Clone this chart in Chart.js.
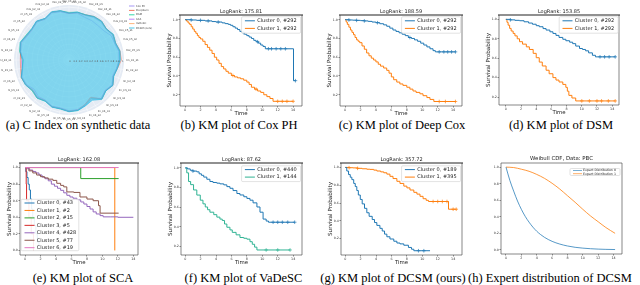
<!DOCTYPE html>
<html><head><meta charset="utf-8">
<script src="https://cdn.jsdelivr.net/npm/chart.js@4.4.1/dist/chart.umd.min.js"></script>
<style>
html,body{margin:0;padding:0;background:#fff;width:640px;height:285px;overflow:hidden;position:relative}
canvas{position:absolute}
.cap{position:absolute;font-family:"Liberation Serif","Times New Roman",serif;font-size:12.5px;line-height:1;white-space:nowrap;color:#000}
</style></head><body>
<div class="cap" style="left:78px;top:118.8px;transform:translateX(-50%)">(a) C Index on synthetic data</div>
<div class="cap" style="left:239px;top:118.8px;transform:translateX(-50%)">(b) KM plot of Cox PH</div>
<div class="cap" style="left:402px;top:118.8px;transform:translateX(-50%)">(c) KM plot of Deep Cox</div>
<div class="cap" style="left:561px;top:118.8px;transform:translateX(-50%)">(d) KM plot of DSM</div>
<div class="cap" style="left:83px;top:272px;transform:translateX(-50%)">(e) KM plot of SCA</div>
<div class="cap" style="left:243.5px;top:272px;transform:translateX(-50%)">(f) KM plot of VaDeSC</div>
<div class="cap" style="left:393px;top:272px;transform:translateX(-50%)">(g) KM plot of DCSM (ours)</div>
<div class="cap" style="left:468px;top:272px">(h) Expert distribution of DCSM</div>
<script>
// ---------------- DATA ----------------
// (a) radar: C index per synthetic dataset
const radarLabels = ['lin_k2_s1','lin_k2_s2','lin_k2_s3','lin_k3_s1','lin_k3_s2','lin_k3_s3','lin_k4_s1','lin_k4_s2','lin_k4_s3','lin_k5_s1','lin_k5_s2','lin_k5_s3',
  'nl_k2_s1','nl_k2_s2','nl_k2_s3','nl_k3_s1','nl_k3_s2','nl_k3_s3','nl_k4_s1','nl_k4_s2','nl_k4_s3','nl_k5_s1','nl_k5_s2','nl_k5_s3',
  'mix_k2_s1','mix_k2_s2','mix_k2_s3','mix_k3_s1','mix_k3_s2','mix_k3_s3','mix_k4_s1','mix_k4_s2','mix_k4_s3','mix_k5_s1','mix_k5_s2','mix_k5_s3'];
const radarMethods = ['Cox PH','DeepSurv','DSM','SCA','VaDeSC','DCSM (ours)'];
const radarCoxPH   = [0.95,0.92,0.89,0.95,0.90,0.95,0.86,0.91,0.96,0.97,0.93,0.94,0.88,0.90,0.86,0.93,0.95,0.89,0.86,0.93,0.97,0.92,0.91,0.95,0.90,0.96,0.93,0.88,0.90,0.86,0.86,0.85,0.86,0.92,0.92,0.96];
const radarDeepSurv= [0.99,0.93,0.89,0.96,0.90,0.96,0.82,0.89,0.96,0.97,0.93,0.94,0.89,0.93,0.89,0.94,0.96,0.93,0.92,0.93,0.97,0.92,0.91,0.95,0.90,0.96,0.94,0.88,0.91,0.91,0.95,0.96,0.92,0.96,0.94,0.98];
const radarDSM     = [0.96,0.92,0.90,0.95,0.91,0.96,0.84,0.91,0.97,0.97,0.94,0.94,0.90,0.94,0.91,0.94,0.96,0.89,0.88,0.95,0.98,0.94,0.92,0.95,0.90,0.96,0.94,0.90,0.92,0.91,0.94,0.95,0.92,0.96,0.93,0.97];
const radarSCA     = [0.95,0.91,0.88,0.94,0.89,0.95,0.83,0.90,0.95,0.96,0.92,0.93,0.89,0.92,0.89,0.93,0.95,0.90,0.90,0.93,0.96,0.91,0.90,0.94,0.89,0.95,0.93,0.88,0.91,0.90,0.93,0.94,0.91,0.95,0.92,0.96];
const radarVaDeSC  = [0.96,0.92,0.89,0.95,0.90,0.96,0.81,0.90,0.96,0.97,0.93,0.94,0.89,0.93,0.90,0.94,0.96,0.91,0.89,0.94,0.97,0.93,0.91,0.95,0.90,0.96,0.94,0.89,0.91,0.90,0.94,0.95,0.91,0.96,0.93,0.97];
const radarDCSM    = [0.97,0.93,0.90,0.96,0.91,0.97,0.88,0.92,0.97,0.98,0.94,0.95,0.90,0.94,0.90,0.95,0.96,0.90,0.87,0.94,0.98,0.93,0.92,0.96,0.91,0.97,0.95,0.89,0.92,0.91,0.95,0.96,0.92,0.97,0.94,0.98];
const radarTicks = [0,0.1,0.2,0.3,0.4,0.5,0.6,0.7,0.8,0.9,1];

// shared tick labels
const timeTicks = [0,2,4,6,8,10,12,14];
const survTicks5 = [1.0,0.8,0.6,0.4,0.2];
const survTicks6 = [1.0,0.8,0.6,0.4,0.2,0.0];

// KM curves: [time, survival, censored?]
const coxC0 = [[0,1],[0.8,0.997,1],[1.5,0.993],[2.0,0.993,1],[2.6,0.987],[3.0,0.987,1],[3.5,0.98],[4.0,0.975],[4.3,0.975,1],[4.8,0.966],[5.2,0.958],[5.6,0.95],[5.9,0.94],[6.2,0.925],[6.5,0.91],[6.8,0.895],[7.1,0.875],[7.4,0.862],[7.6,0.862,1],[7.7,0.845],[8.0,0.83],[8.3,0.815],[8.6,0.8],[8.9,0.78],[9.2,0.765],[9.4,0.765,1],[9.5,0.75],[9.8,0.73],[10.1,0.715],[10.4,0.69],[10.8,0.69,1],[11.2,0.69,1],[11.8,0.69,1],[12.4,0.69,1],[13.0,0.69,1],[14.05,0.35],[14.3,0.35,1]];
const coxC1 = [[0,1],[0.2,0.985],[0.4,0.965],[0.6,0.95],[0.8,0.925],[1.0,0.9],[1.2,0.875],[1.4,0.855],[1.6,0.83],[1.8,0.81],[2.0,0.795],[2.3,0.77],[2.6,0.735],[2.9,0.705],[3.2,0.675],[3.5,0.64],[3.8,0.6],[4.1,0.57],[4.4,0.535],[4.7,0.5],[5.0,0.475],[5.3,0.45],[5.6,0.43],[6.0,0.405],[6.2,0.405,1],[6.4,0.39],[6.8,0.38],[7.2,0.37],[7.6,0.355],[8.0,0.335],[8.3,0.31],[8.6,0.28],[9.0,0.26],[9.2,0.26,1],[9.4,0.24],[9.8,0.225],[10.2,0.2],[10.6,0.18],[11.0,0.16],[11.4,0.13],[12.0,0.13,1],[12.6,0.13,1],[13.2,0.13,1],[14.0,0.13,1]];
const deepC0 = [[0,1],[0.5,0.997,1],[1.0,0.995],[1.5,0.993,1],[2.0,0.99],[2.5,0.987,1],[3.0,0.982],[3.5,0.975],[4.0,0.968],[4.2,0.968,1],[4.5,0.957],[5.0,0.945],[5.4,0.93],[5.8,0.91],[6.2,0.89],[6.6,0.875],[7.0,0.86],[7.4,0.845],[7.8,0.83],[8.2,0.81],[8.4,0.81,1],[8.6,0.8],[9.0,0.785],[9.4,0.77],[9.8,0.75],[10.2,0.73],[10.6,0.71],[11.0,0.69],[11.4,0.67],[11.7,0.657],[12.2,0.657,1],[12.8,0.657,1],[13.3,0.657,1],[13.8,0.657,1],[14.3,0.657,1]];
const deepC1 = [[0,1],[0.15,0.975],[0.3,0.95],[0.5,0.92],[0.7,0.89],[0.9,0.865],[1.1,0.84],[1.3,0.81],[1.5,0.785],[1.7,0.77],[1.9,0.755],[2.2,0.72],[2.5,0.685],[2.8,0.645],[3.1,0.615],[3.4,0.59],[3.7,0.57],[4.0,0.55],[4.3,0.525],[4.6,0.505],[5.0,0.485],[5.4,0.46],[5.7,0.43],[6.0,0.39],[6.3,0.36],[6.7,0.335],[7.1,0.315],[7.5,0.3],[8.0,0.28],[8.4,0.26],[8.8,0.24],[9.2,0.225],[9.7,0.21],[10.1,0.19],[10.6,0.17],[11.0,0.15],[11.5,0.128],[12.2,0.128,1],[13.0,0.128,1],[14.3,0.128,1]];
const dsmC0 = [[0,1],[0.6,0.995,1],[1.2,0.99],[1.8,0.986],[2.4,0.975],[3.0,0.962],[3.5,0.95],[4.0,0.935],[4.4,0.924],[4.9,0.905],[5.3,0.89],[5.8,0.872],[6.2,0.855],[6.6,0.835],[7.0,0.814],[7.5,0.795],[7.9,0.78],[8.4,0.765],[8.8,0.75],[9.2,0.725],[9.7,0.7],[10.1,0.69],[10.5,0.676],[10.9,0.655],[11.4,0.63],[11.8,0.614],[12.4,0.614,1],[13.0,0.614,1],[13.6,0.614,1],[14.4,0.614,1]];
const dsmC1 = [[0,1],[0.15,0.97],[0.3,0.94],[0.5,0.907],[0.7,0.88],[0.96,0.855],[1.2,0.83],[1.5,0.8],[1.8,0.77],[2.2,0.745],[2.7,0.717],[3.1,0.69],[3.6,0.65],[4.0,0.605],[4.4,0.56],[4.8,0.52],[5.3,0.476],[5.7,0.44],[6.2,0.4],[6.6,0.375],[7.0,0.355],[7.5,0.33],[7.9,0.3],[8.1,0.26],[8.3,0.217],[8.7,0.19],[9.2,0.16],[10.0,0.16,1],[11.0,0.16,1],[12.0,0.16,1],[12.6,0.16,1],[13.5,0.16,1],[14.4,0.16,1]];
const scaC0 = [[0,1],[0.1,0.95],[0.25,0.88],[0.4,0.8],[0.55,0.73],[0.7,0.62],[0.85,0.5],[1.0,0.4],[1.2,0.3],[1.4,0.2],[1.6,0.1],[1.8,0.05]];
const scaC1 = [[0,1],[11.6,0.0]];
const scaC2 = [[0,1],[7.2,0.867],[12.1,0.867]];
const scaC3 = [[0,1],[0.15,0.8],[0.2,0.6],[0.5,0.4],[0.8,0.2],[1.1,0.0]];
const scaC4 = [[0,1],[0.3,0.985],[0.6,0.97],[1.0,0.953],[1.4,0.935],[1.8,0.91],[2.2,0.885],[2.6,0.865],[3.0,0.84],[3.4,0.8],[3.8,0.775],[4.2,0.75],[4.6,0.725],[5.0,0.695],[5.4,0.665],[5.8,0.645],[6.2,0.63],[6.7,0.61],[7.2,0.585],[7.6,0.56],[8.0,0.53],[8.4,0.5],[8.8,0.465],[9.2,0.44],[9.7,0.42],[10.1,0.405],[11.0,0.405],[12.0,0.4],[14.0,0.4]];
const scaC5 = [[0,1],[0.5,0.96],[1.0,0.935],[1.5,0.91],[2.0,0.89],[2.5,0.875],[3.0,0.86],[3.6,0.845],[4.1,0.81],[4.6,0.785],[5.0,0.767],[5.4,0.706],[6.3,0.7],[7.1,0.645],[8.0,0.62],[8.8,0.6],[9.5,0.54],[9.7,0.45],[12.1,0.45]];
const scaC6 = [[0,1],[12.1,1]];
const vadeC0 = [[0,1],[0.3,0.99],[0.65,0.976],[1.0,0.968,1],[1.5,0.96],[1.8,0.94],[2.1,0.925],[2.4,0.907],[2.8,0.885],[3.2,0.862],[3.6,0.852],[4.1,0.845],[4.5,0.838],[5.0,0.828],[5.4,0.81],[5.8,0.793],[6.2,0.77],[6.7,0.74],[7.1,0.725],[7.6,0.707],[8.0,0.69],[8.4,0.672],[8.8,0.645],[9.3,0.603],[9.7,0.55],[10.1,0.48],[10.5,0.46],[10.8,0.448],[11.4,0.448,1],[12.0,0.448,1],[12.6,0.448,1],[13.3,0.448,1],[14.2,0.448,1]];
const vadeC1 = [[0,1],[0.2,0.95],[0.43,0.862],[0.7,0.83],[1.08,0.776],[1.5,0.724],[1.95,0.672],[2.3,0.635],[2.6,0.603],[2.9,0.575],[3.2,0.55],[3.7,0.525],[4.1,0.5],[4.5,0.48],[4.8,0.466],[5.1,0.43],[5.4,0.397],[5.8,0.37],[6.1,0.345],[6.6,0.32],[7.1,0.293],[7.6,0.285],[8.0,0.276],[8.4,0.25],[8.7,0.224],[9.0,0.195],[9.3,0.166],[10.5,0.166,1],[12.0,0.166,1],[13.6,0.166,1]];
const dcsmC0 = [[0,1],[0.2,0.96],[0.43,0.92],[0.65,0.89],[0.86,0.863],[1.1,0.82],[1.3,0.785],[1.5,0.74],[1.7,0.69],[1.95,0.64],[2.2,0.59],[2.5,0.54],[2.8,0.49],[3.1,0.45],[3.5,0.414],[3.8,0.38],[4.1,0.348],[4.5,0.315],[4.8,0.285],[5.1,0.25],[5.4,0.22],[5.8,0.195],[6.3,0.17],[6.7,0.15],[7.1,0.14],[7.6,0.125],[8.2,0.1],[8.6,0.08],[8.9,0.063],[9.5,0.063,1],[10.2,0.063,1],[11.0,0.063]];
const dcsmC1 = [[0,1],[0.5,0.997,1],[1.0,0.995],[1.6,0.99,1],[2.2,0.985],[2.8,0.98],[3.2,0.978],[3.7,0.97],[4.1,0.96],[4.6,0.95],[5.0,0.94],[5.4,0.925],[5.8,0.9],[6.2,0.875],[6.7,0.844],[7.1,0.82],[7.6,0.79],[8.0,0.77],[8.4,0.746],[8.9,0.72],[9.3,0.7],[9.7,0.675],[10.1,0.648],[10.5,0.63],[10.8,0.617],[11.4,0.617,1],[12.0,0.617,1],[12.6,0.617,1],[13.2,0.617,1],[13.4,0.53],[14.0,0.53,1],[14.4,0.53,1]];
// (h) Weibull CDF expert curves: [time, value]
const expert0 = [[0,1.0],[0.5,0.84],[1.0,0.71],[1.5,0.59],[2.0,0.49],[2.5,0.405],[3.0,0.335],[3.5,0.275],[4.0,0.225],[4.5,0.185],[5.0,0.152],[6.0,0.103],[7.0,0.07],[8.0,0.047],[9.0,0.031],[10.0,0.021],[11.0,0.014],[12.0,0.009],[13.0,0.006],[14.2,0.004]];
const expert1 = [[0,1.0],[1.0,0.995],[2.0,0.975],[3.0,0.95],[4.0,0.912],[5.0,0.865],[6.0,0.805],[7.0,0.735],[8.0,0.655],[9.0,0.575],[10.0,0.49],[11.0,0.41],[12.0,0.34],[13.0,0.27],[14.2,0.2]];

// ---------------- RENDER ----------------
Chart.defaults.font.family = '"DejaVu Sans", sans-serif';
Chart.defaults.animation = false;
Chart.defaults.responsive = false;
Chart.defaults.maintainAspectRatio = false;
Chart.defaults.events = [];
Chart.defaults.plugins.legend.display = false;
Chart.defaults.plugins.tooltip.enabled = false;

const FONT = '"DejaVu Sans", sans-serif';
const deco = {
  id: 'deco',
  afterDraw(chart, args, o) {
    if (!o || !o.on) return;
    const ctx = chart.ctx, a = chart.chartArea;
    ctx.save();
    ctx.strokeStyle = '#555'; ctx.lineWidth = 0.7;
    ctx.beginPath();
    ctx.moveTo(a.left, a.top); ctx.lineTo(a.left, a.bottom); ctx.lineTo(a.right, a.bottom); ctx.lineTo(a.right, a.top);
    ctx.stroke();
    ctx.strokeStyle = o.topColor || '#222'; ctx.lineWidth = o.topWidth || 1.2;
    ctx.beginPath(); ctx.moveTo(a.left - (o.topExt||0), a.top); ctx.lineTo(a.right + (o.topExt||0), a.top); ctx.stroke();
    if (o.title) {
      ctx.fillStyle = '#222'; ctx.font = (o.titleSize || 5) + 'px ' + FONT;
      ctx.textAlign = 'center'; ctx.textBaseline = 'middle';
      ctx.fillText(o.title, (a.left + a.right) / 2, a.top - o.titleGap);
    }
    const L = o.legend;
    if (L) {
      const bx = L.fromRight != null ? a.right - L.fromRight - L.w : a.left + L.fromLeft;
      const by = L.fromBottom != null ? a.bottom - L.fromBottom - L.h : a.top + L.fromTop;
      ctx.fillStyle = 'rgba(255,255,255,0.9)'; ctx.strokeStyle = '#cfcfcf'; ctx.lineWidth = 0.6;
      ctx.beginPath(); ctx.roundRect(bx, by, L.w, L.h, 1.2); ctx.fill(); ctx.stroke();
      ctx.font = L.size + 'px ' + FONT; ctx.textAlign = 'left'; ctx.textBaseline = 'middle';
      chart.data.datasets.forEach((d, i) => {
        const y = by + L.first + i * L.step;
        ctx.strokeStyle = d.borderColor; ctx.lineWidth = L.lw || 1;
        ctx.beginPath(); ctx.moveTo(bx + L.s0, y); ctx.lineTo(bx + L.s1, y); ctx.stroke();
        ctx.fillStyle = '#222'; ctx.fillText(d.label, bx + L.tx, y);
      });
    }
    ctx.restore();
  }
};
Chart.register(deco);

function makeCanvas(left, top, w, h) {
  const cv = document.createElement('canvas');
  cv.width = w; cv.height = h;
  cv.style.left = left + 'px'; cv.style.top = top + 'px';
  cv.style.width = w + 'px'; cv.style.height = h + 'px';
  document.body.appendChild(cv);
  return cv;
}

function km(p) {
  const Lw = 14, T = 10, R = 4, B = 11;
  const [fl, ft, fr, fb] = p.frame;
  const cv = makeCanvas(fl - Lw, ft - T, fr - fl + Lw + R, fb - ft + T + B);
  const datasets = p.curves.map((c, i) => ({
    label: c.label,
    data: c.pts.map(q => ({ x: q[0], y: q[1] })),
    borderColor: c.color, backgroundColor: c.color,
    borderWidth: c.width || 1,
    order: p.lastOnTop ? -i : i,
    stepped: p.smooth ? false : true,
    cubicInterpolationMode: p.smooth ? 'monotone' : 'default',
    pointStyle: 'cross',
    pointRadius: c.pts.map(q => q[2] ? 1.8 : 0),
    pointBorderWidth: 0.7,
    pointHoverRadius: 0,
    fill: false
  }));
  new Chart(cv, {
    type: 'line',
    data: { datasets },
    options: {
      layout: { padding: { left: 0, top: T, right: R, bottom: 0 } },
      plugins: { deco: Object.assign({ on: true }, p.deco) },
      scales: {
        x: {
          type: 'linear', min: p.xr[0], max: p.xr[1],
          afterBuildTicks: s => { s.ticks = timeTicks.map(v => ({ value: v })); },
          afterFit: s => { s.height = B; },
          grid: { display: true, drawOnChartArea: false, drawTicks: true, tickLength: 1.5, tickColor: '#444', tickWidth: 0.6 },
          border: { display: false },
          ticks: { font: { size: 3.3 }, color: '#333', padding: 0.5, maxRotation: 0, autoSkip: false, callback: v => String(v) },
          title: { display: p.xlabel !== false, text: 'Time', font: { size: 5.4 }, color: '#222', padding: 0 }
        },
        y: {
          type: 'linear', min: p.yr[0], max: p.yr[1],
          afterBuildTicks: s => { s.ticks = p.yticks.map(v => ({ value: v })); },
          afterFit: s => { s.width = Lw; },
          grid: { display: true, drawOnChartArea: false, drawTicks: true, tickLength: 1.5, tickColor: '#444', tickWidth: 0.6 },
          border: { display: false },
          ticks: { font: { size: 3.2 }, color: '#333', padding: 0.8, autoSkip: false, callback: v => Number(v).toFixed(1) },
          title: { display: p.ylabel !== false, text: 'Survival Probability', font: { size: 5.6 }, color: '#222', padding: 0 }
        }
      }
    }
  });
}

const leg2 = { fromRight: 1.4, fromTop: 1.7, w: 59, h: 16.5, first: 4.1, step: 7.6, s0: 3.3, s1: 13.3, tx: 15.6, size: 5 };
const leg2b = Object.assign({}, leg2, { fromTop: 2.8, h: 15.8, first: 3.8, step: 7.5 });

km({ frame: [180, 15, 302, 106], xr: [-0.65, 15.15], yr: [0.08, 1.05], yticks: survTicks5,
  curves: [{ label: 'Cluster 0, #292', color: '#1f77b4', pts: coxC0 }, { label: 'Cluster 1, #292', color: '#ff7f0e', pts: coxC1 }],
  deco: { title: 'LogRank: 175.81', titleGap: 3.3, legend: leg2, topExt: 1 } });
km({ frame: [340, 15, 462, 106], xr: [-0.65, 15.15], yr: [0.08, 1.05], yticks: survTicks5,
  curves: [{ label: 'Cluster 0, #292', color: '#1f77b4', pts: deepC0 }, { label: 'Cluster 1, #292', color: '#ff7f0e', pts: deepC1 }],
  deco: { title: 'LogRank: 188.59', titleGap: 3.6, legend: leg2, topExt: 1 } });
km({ frame: [499, 15, 619, 105], xr: [-0.9, 14.9], yr: [0.118, 1.045], yticks: survTicks5,
  curves: [{ label: 'Cluster 0, #292', color: '#1f77b4', pts: dsmC0 }, { label: 'Cluster 1, #292', color: '#ff7f0e', pts: dsmC1 }],
  deco: { title: 'LogRank: 153.85', titleGap: 3.3, legend: Object.assign({}, leg2, { fromRight: 0.8 }), topExt: 1 } });
km({ frame: [20, 163, 138, 255], xr: [-0.65, 14.6], yr: [-0.055, 1.055], yticks: survTicks6, lastOnTop: true,
  curves: [
    { label: 'Cluster 0, #43', color: '#1f77b4', pts: scaC0 },
    { label: 'Cluster 1, #2', color: '#ff7f0e', pts: scaC1 },
    { label: 'Cluster 2, #15', color: '#2ca02c', pts: scaC2 },
    { label: 'Cluster 3, #5', color: '#d62728', pts: scaC3 },
    { label: 'Cluster 4, #428', color: '#9467bd', pts: scaC4 },
    { label: 'Cluster 5, #77', color: '#8c564b', pts: scaC5 },
    { label: 'Cluster 6, #19', color: '#e377c2', pts: scaC6 }],
  deco: { title: 'LogRank: 162.08', titleGap: 3, topExt: 1,
    legend: { fromLeft: 1.2, fromBottom: 4.3, w: 57.6, h: 51.4, first: 3.7, step: 7.45, s0: 3.3, s1: 13.3, tx: 15.6, size: 5 } } });
km({ frame: [181, 163, 302, 255], xr: [-0.55, 15.15], yr: [0.115, 1.05], yticks: survTicks5,
  curves: [{ label: 'Cluster 0, #440', color: '#1f77b4', pts: vadeC0 }, { label: 'Cluster 1, #144', color: '#2fb393', pts: vadeC1 }],
  deco: { title: 'LogRank: 87.62', titleGap: 3, legend: leg2b, topExt: 1 } });
km({ frame: [341, 163, 462, 255], xr: [-0.55, 15.15], yr: [0.015, 1.05], yticks: survTicks5,
  curves: [{ label: 'Cluster 0, #189', color: '#1f77b4', pts: dcsmC0 }, { label: 'Cluster 1, #395', color: '#ff7f0e', pts: dcsmC1 }],
  deco: { title: 'LogRank: 357.72', titleGap: 3, legend: leg2b, topExt: 1 } });
km({ frame: [501, 163, 622, 254], xr: [-0.65, 15.1], yr: [-0.05, 1.05], yticks: survTicks6, smooth: true, xlabel: false, ylabel: false,
  curves: [{ label: 'Expert Distribution 0', color: 'rgba(31,119,180,0.75)', pts: expert0 }, { label: 'Expert Distribution 1', color: 'rgba(255,127,14,0.8)', pts: expert1 }],
  deco: { title: 'Weibull CDF, Data: PBC', titleSize: 5.4, titleGap: 4, topColor: '#555', topWidth: 0.7,
    legend: { fromRight: 2, fromTop: 5.5, w: 50, h: 7, first: 2.0, step: 3.2, s0: 3, s1: 12, tx: 13, size: 3.2, lw: 0.8 } } });

// (a) radar
const radarColors = ['#8f7ff0', '#ef553b', '#00cc96', '#ab63fa', '#ffa15a', '#19b8e3'];
const radarData = [radarCoxPH, radarDeepSurv, radarDSM, radarSCA, radarVaDeSC, radarDCSM];
const radarDeco = {
  id: 'radarDeco',
  beforeDraw(chart, args, o) {
    if (!o || !o.on) return;
    const s = chart.scales.r, ctx = chart.ctx;
    ctx.save(); ctx.fillStyle = '#e5ebf4';
    ctx.beginPath(); ctx.arc(s.xCenter, s.yCenter, s.drawingArea, 0, Math.PI * 2); ctx.fill();
    ctx.restore();
  },
  afterDraw(chart, args, o) {
    if (!o || !o.on) return;
    const s = chart.scales.r, ctx = chart.ctx;
    ctx.save();
    ctx.fillStyle = '#444'; ctx.font = '2.7px ' + FONT;
    radarLabels.forEach((lab, i) => {
      const p = s.getPointPosition(i, s.drawingArea + 2.5);
      const dx = p.x - s.xCenter, dy = p.y - s.yCenter, r = Math.hypot(dx, dy);
      const c = dx / r, sn = dy / r;
      ctx.textAlign = c > 0.2 ? 'left' : (c < -0.2 ? 'right' : 'center');
      ctx.textBaseline = sn > 0.2 ? 'top' : (sn < -0.2 ? 'bottom' : 'middle');
      ctx.fillText(lab, p.x, p.y);
    });
    ctx.fillStyle = '#555'; ctx.font = '2.4px ' + FONT; ctx.textAlign = 'center'; ctx.textBaseline = 'top';
    radarTicks.forEach(v => {
      const d = s.getDistanceFromCenterForValue(v);
      ctx.fillText(String(v), s.xCenter + d + 1, s.yCenter + 0.6);
    });
    ctx.font = '2.6px ' + FONT; ctx.textAlign = 'left'; ctx.textBaseline = 'middle';
    radarMethods.forEach((m, i) => {
      const y = 6 + i * 4.4;
      ctx.strokeStyle = radarColors[i]; ctx.lineWidth = 0.8;
      ctx.beginPath(); ctx.moveTo(129, y); ctx.lineTo(134.5, y); ctx.stroke();
      ctx.fillStyle = '#444'; ctx.fillText(m, 136, y);
    });
    ctx.restore();
  }
};
Chart.register(radarDeco);
const rcv = makeCanvas(0, 0, 162, 122);
new Chart(rcv, {
  type: 'radar',
  data: {
    labels: radarLabels,
    datasets: radarMethods.map((m, i) => ({
      label: m, data: radarData[i],
      borderColor: radarColors[i], borderWidth: i === 5 ? 0.6 : 0.5,
      backgroundColor: i === 5 ? 'rgba(80,200,235,0.68)' : 'rgba(0,0,0,0)',
      fill: i === 5, pointRadius: 0, tension: 0,
      order: i === 5 ? -1 : i
    }))
  },
  options: {
    layout: { padding: { left: 14, top: 5, right: 38, bottom: 7 } },
    plugins: { radarDeco: { on: true } },
    scales: {
      r: {
        min: 0, max: 1.04, startAngle: 90,
        afterBuildTicks: s => { s.ticks = radarTicks.map(v => ({ value: v })); },
        ticks: { display: false },
        grid: { circular: true, color: 'rgba(255,255,255,0.95)', lineWidth: 0.5 },
        angleLines: { color: 'rgba(255,255,255,0.95)', lineWidth: 0.4 },
        pointLabels: { display: false }
      }
    }
  }
});
</script>
</body></html>
